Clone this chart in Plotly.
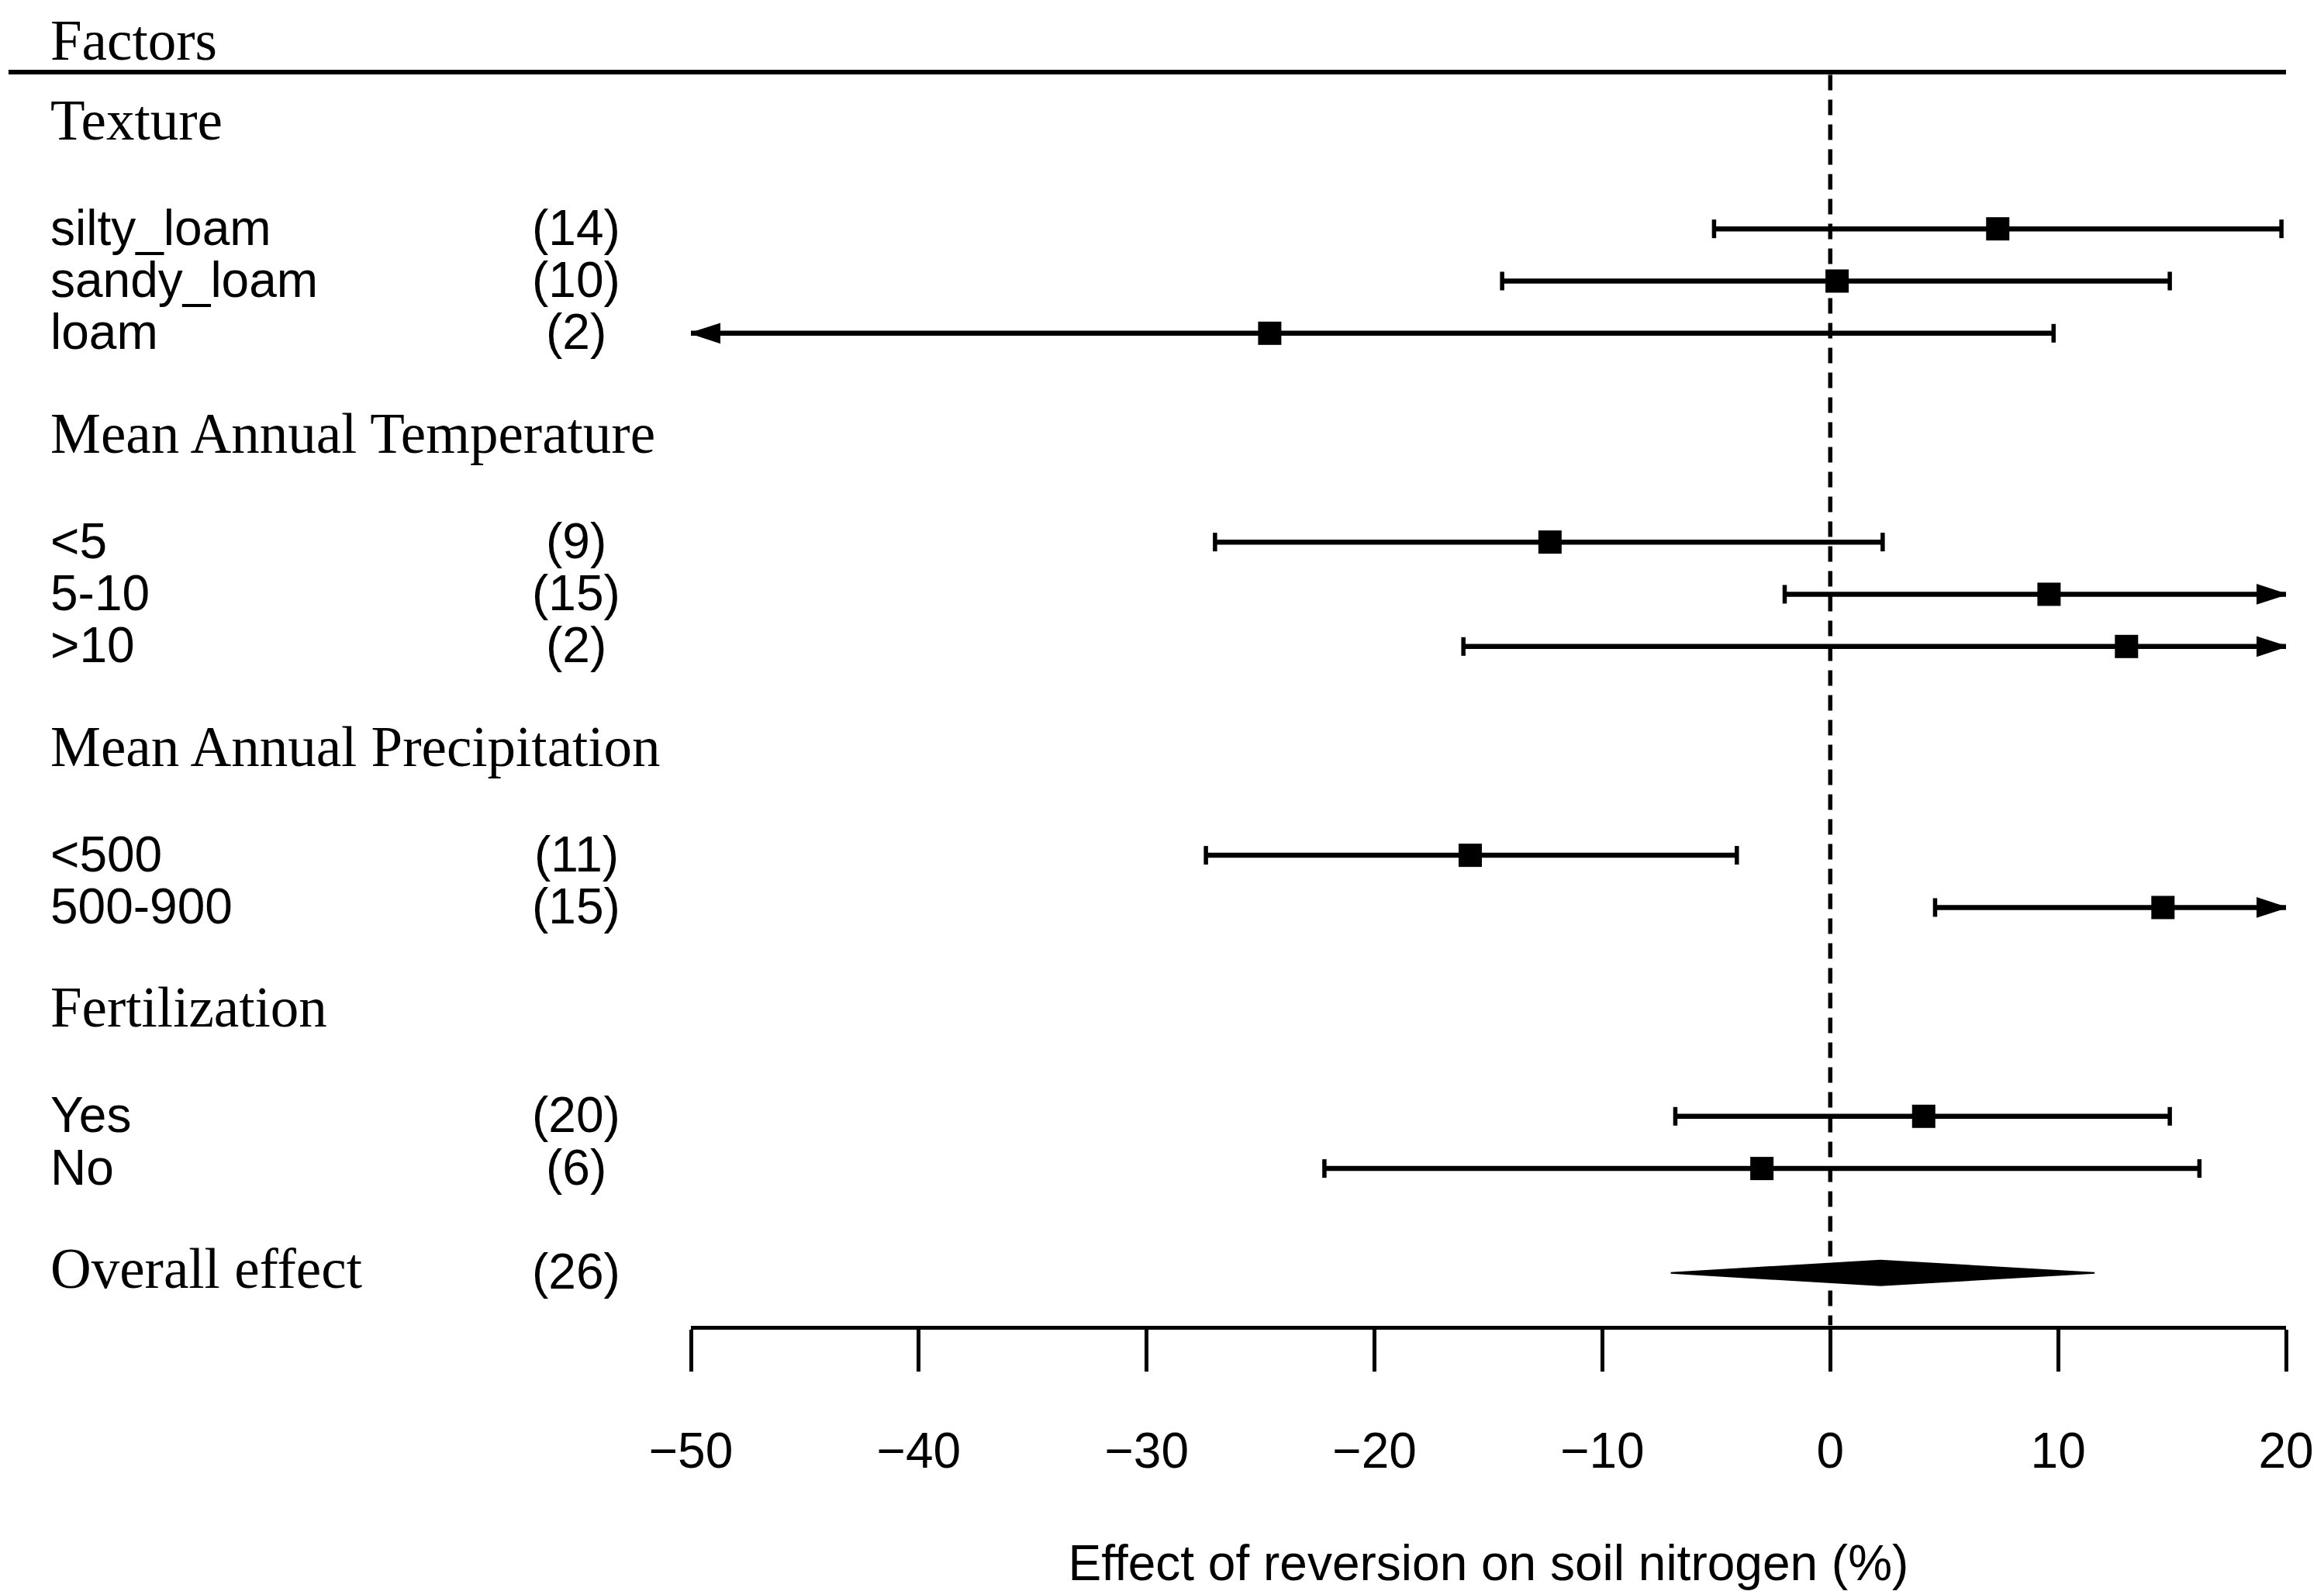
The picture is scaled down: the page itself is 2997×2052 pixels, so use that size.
import plotly.graph_objects as go

# ---------------- data ----------------
groups = ["Texture", "Mean Annual Temperature", "Mean Annual Precipitation", "Fertilization"]
group_sizes = [3, 3, 2, 2]
categories = ["silty_loam", "sandy_loam", "loam", "<5", "5-10", ">10", "<500", "500-900", "Yes", "No"]
counts = [14, 10, 2, 9, 15, 2, 11, 15, 20, 6]
estimates = [7.35, 0.3, -24.6, -12.3, 9.6, 13.0, -15.8, 14.6, 4.1, -3.0]
ci_low = [-5.1, -14.4, -58.0, -27.0, -2.0, -16.1, -27.4, 4.6, -6.8, -22.2]
ci_high = [19.8, 14.9, 9.8, 2.3, 23.5, 31.0, -4.1, 25.0, 14.9, 16.2]
overall_label = "Overall effect"
overall_n = 26
overall_est = 2.2
overall_low = -7.0
overall_high = 11.6
x_ticks = [-50, -40, -30, -20, -10, 0, 10, 20]
x_title = "Effect of reversion on soil nitrogen (%)"
header = "Factors"

# ---------------- layout constants ----------------
W, H = 2997, 2052
XMIN, XMAX = -50, 20
x_left_px, x_right_px = 891, 2948
px_per_unit = (x_right_px - x_left_px) / (XMAX - XMIN)
row_px = 67.33
row0_px = 59.5
axis_px = 1709.5
axis_row = (axis_px - row0_px) / row_px
y_top_row = -row0_px / row_px

SANS = "Liberation Sans, Arial, sans-serif"
SERIF = "Liberation Serif, Times New Roman, serif"
FS = 64
FS_HEAD = 73
HEAD_SHIFT = -0.08
LAB_SHIFT = -0.02

# row positions
rows_cat, rows_head = [], []
r = 1.5
for g, n in zip(groups, group_sizes):
    rows_head.append(r)
    for i in range(n):
        rows_cat.append(r + 2 + i)
    r = r + 2 + n - 1 + 2
overall_row = rows_cat[-1] + 2

fig = go.Figure()

# CI lines (clipped) + caps + arrows
lx, ly = [], []
cx, cy = [], []
shapes = []
cap_h = 12 / row_px
arr_len = 37 / px_per_unit
arr_h = 12 / row_px
for lo, hi, yy in zip(ci_low, ci_high, rows_cat):
    lo_c = max(lo, XMIN)
    hi_c = min(hi, XMAX)
    lx += [lo_c, hi_c, None]
    ly += [yy, yy, None]
    if lo >= XMIN:
        cx += [lo, lo, None]; cy += [yy - cap_h, yy + cap_h, None]
    else:
        shapes.append(dict(type="path", xref="x", yref="y",
                           path=f"M {XMIN} {yy} L {XMIN + arr_len} {yy - arr_h} L {XMIN + arr_len} {yy + arr_h} Z",
                           fillcolor="black", line=dict(color="black", width=2)))
    if hi <= XMAX:
        cx += [hi, hi, None]; cy += [yy - cap_h, yy + cap_h, None]
    else:
        shapes.append(dict(type="path", xref="x", yref="y",
                           path=f"M {XMAX} {yy} L {XMAX - arr_len} {yy - arr_h} L {XMAX - arr_len} {yy + arr_h} Z",
                           fillcolor="black", line=dict(color="black", width=2)))

fig.add_trace(go.Scatter(x=lx, y=ly, mode="lines", line=dict(color="black", width=6.5),
                         hoverinfo="skip", showlegend=False, cliponaxis=False))
fig.add_trace(go.Scatter(x=cx, y=cy, mode="lines", line=dict(color="black", width=5.5),
                         hoverinfo="skip", showlegend=False, cliponaxis=False))
fig.add_trace(go.Scatter(x=estimates, y=rows_cat, mode="markers",
                         marker=dict(symbol="square", size=30, color="black", line=dict(width=0)),
                         showlegend=False, cliponaxis=False))

# overall diamond
dh = 16 / row_px
fig.add_trace(go.Scatter(x=[overall_low, overall_est, overall_high, overall_est, overall_low],
                         y=[overall_row, overall_row - dh, overall_row, overall_row + dh, overall_row],
                         mode="lines", fill="toself", fillcolor="black",
                         line=dict(color="black", width=2), showlegend=False, hoverinfo="skip"))

# reference dashed line at 0
shapes.append(dict(type="line", xref="x", yref="y", x0=0, x1=0, y0=0.55, y1=axis_row,
                   line=dict(color="black", width=5.5, dash="20px,12px")))
# header line
hdr_row = (93 - row0_px) / row_px
shapes.append(dict(type="line", xref="paper", yref="y", x0=11 / W, x1=x_right_px / W,
                   y0=hdr_row, y1=hdr_row, line=dict(color="black", width=6)))

ann = []
label_x = 63 / W
count_x = 743 / W
ann.append(dict(x=label_x, y=-0.1, xref="paper", yref="y", text=header, showarrow=False,
                xanchor="left", yanchor="middle", font=dict(family=SERIF, size=FS_HEAD, color="black")))
for g, yy in zip(groups, rows_head):
    ann.append(dict(x=label_x, y=yy + HEAD_SHIFT, xref="paper", yref="y", text=g, showarrow=False,
                    xanchor="left", yanchor="middle", font=dict(family=SERIF, size=FS_HEAD, color="black")))
for c, n, yy in zip(categories, counts, rows_cat):
    ann.append(dict(x=label_x, y=yy + LAB_SHIFT, xref="paper", yref="y", text=c, showarrow=False,
                    xanchor="left", yanchor="middle", font=dict(family=SANS, size=FS, color="black")))
    ann.append(dict(x=count_x, y=yy + LAB_SHIFT, xref="paper", yref="y", text=f"({n})", showarrow=False,
                    xanchor="center", yanchor="middle", font=dict(family=SANS, size=FS, color="black")))
ann.append(dict(x=label_x, y=overall_row + HEAD_SHIFT, xref="paper", yref="y", text=overall_label,
                showarrow=False, xanchor="left", yanchor="middle",
                font=dict(family=SERIF, size=FS_HEAD, color="black")))
ann.append(dict(x=count_x, y=overall_row + LAB_SHIFT, xref="paper", yref="y", text=f"({overall_n})",
                showarrow=False, xanchor="center", yanchor="middle",
                font=dict(family=SANS, size=FS, color="black")))

fig.update_layout(
    width=W, height=H, autosize=False,
    margin=dict(l=0, r=0, t=0, b=0, pad=0, autoexpand=False),
    paper_bgcolor="white", plot_bgcolor="white",
    shapes=shapes, annotations=ann, showlegend=False,
    xaxis=dict(domain=[x_left_px / W, x_right_px / W], range=[XMIN, XMAX], automargin=False,
               tickmode="array", tickvals=x_ticks, ticks="outside", ticklen=54, tickwidth=5,
               tickcolor="black", showline=True, linecolor="black", linewidth=5,
               showgrid=False, zeroline=False, ticklabelstandoff=48,
               tickfont=dict(family=SANS, size=FS, color="black"),
               title=dict(text=x_title, font=dict(family=SANS, size=FS, color="black"), standoff=90)),
    yaxis=dict(domain=[(H - axis_px) / H, 1], range=[axis_row, y_top_row], automargin=False,
               visible=False, showgrid=False, zeroline=False),
)

fig.write_html("out.html", config={"responsive": False, "displayModeBar": False},
               post_script="document.body.style.margin='0px';document.body.style.overflow='hidden';")
